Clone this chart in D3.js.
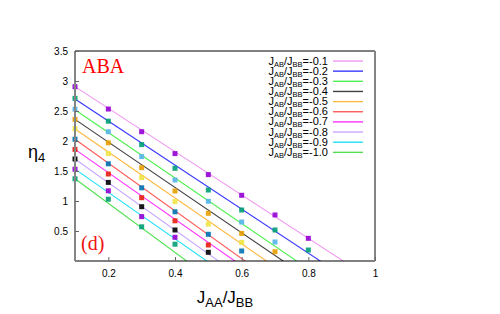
<!DOCTYPE html>
<html>
<head>
<meta charset="utf-8">
<script src="https://cdn.jsdelivr.net/npm/d3@7"></script>
<style>
  body { margin: 0; background: #fff; }
</style>
</head>
<body>
<script>
// J_AA/J_BB values where points were computed
var jaa = [0.1, 0.2, 0.3, 0.4, 0.5, 0.6, 0.7, 0.8]

// eta_4 data points, one row per colour band (top to bottom)
var pts1  = [2.905, 2.533, 2.155, 1.79, 1.44, 1.095, 0.767, 0.378]
var pts2  = [2.71, 2.33, 1.94, 1.545, 1.183, 0.85, 0.517, 0.183]
var pts3  = [2.53, 2.155, 1.74, 1.35, 0.995, 0.65, 0.317]
var pts4  = [2.36, 1.97, 1.555, 1.167, 0.795, 0.46, 0.155]
var pts5  = [2.205, 1.79, 1.39, 0.99, 0.615, 0.31]
var pts6  = [2.03, 1.62, 1.22, 0.82, 0.445, 0.167]
var pts7  = [1.86, 1.45, 1.055, 0.67, 0.267]
var pts8  = [1.70, 1.31, 0.905, 0.517, 0.145]
var pts9  = [1.53, 1.17, 0.74, 0.395]
var pts10 = [1.37, 1.03, 0.57, 0.28]
var pointRows = [pts1, pts2, pts3, pts4, pts5, pts6, pts7, pts8, pts9, pts10]
var pointColors = ["#9400d3", "#009e73", "#56b4e9", "#e69f00", "#f0e442",
                   "#0072b2", "#e51e10", "#000000", "#9400d3", "#009e73"]

// straight lines, one per J_AB/J_BB: value at J_AA=0.1 and slope
var jab = ["-0.1", "-0.2", "-0.3", "-0.4", "-0.5", "-0.6", "-0.7", "-0.8", "-0.9", "-1.0"]
var lineStart = [2.905, 2.70, 2.52, 2.36, 2.20, 2.03, 1.86, 1.70, 1.53, 1.37]
var lineSlope = [-3.61, -3.67, -3.79, -3.78, -3.83, -3.98, -3.88, -3.95, -3.87, -4.09]
var lineColors = ["#f09af0", "#3a3aff", "#50f050", "#404040", "#ffb840",
                  "#ff5a5a", "#ff30ff", "#c8a8ff", "#20e0f8", "#50e050"]

var xTicks = [0.2, 0.4, 0.6, 0.8, 1]
var yTicks = [0.5, 1, 1.5, 2, 2.5, 3, 3.5]

var sans = "'Liberation Sans', Arial, sans-serif"
var serif = "'Liberation Serif', 'Times New Roman', serif"

function main() {
  var W = 500, H = 314
  var pLeft = 75, pRight = 375, pTop = 51, pBottom = 261

  var svg = d3.select("body").append("svg").attr("width", W).attr("height", H)
    .style("font-family", sans)

  var x = d3.scaleLinear().domain([0.1, 1]).range([pLeft, pRight])
  var y = d3.scaleLinear().domain([0, 3.5]).range([pBottom, pTop])

  svg.append("clipPath").attr("id", "plotclip")
    .append("rect").attr("x", pLeft).attr("y", pTop)
    .attr("width", pRight - pLeft).attr("height", pBottom - pTop)

  // lines
  var lineGen = d3.line().x(function(d) { return x(d[0]) }).y(function(d) { return y(d[1]) })
  var linesG = svg.append("g").attr("clip-path", "url(#plotclip)")
  for (var i = 0; i < jab.length; i++) {
    var a = lineStart[i], b = lineSlope[i]
    var seg = [[0.1, a], [1, a + b * 0.9]]
    linesG.append("path")
      .attr("d", lineGen(seg))
      .attr("fill", "none")
      .attr("stroke", lineColors[i])
      .attr("stroke-width", 1.1)
  }

  // points
  var ptsG = svg.append("g")
  for (var r = 0; r < pointRows.length; r++) {
    var row = pointRows[r]
    for (var k = 0; k < row.length; k++) {
      ptsG.append("rect")
        .attr("x", x(jaa[k]) - 2.5)
        .attr("y", y(row[k]) - 2.5)
        .attr("width", 5).attr("height", 5)
        .attr("fill", pointColors[r])
        .attr("opacity", 0.9)
    }
  }

  // frame
  svg.append("line").attr("x1", pLeft).attr("x2", pRight).attr("y1", pTop).attr("y2", pTop)
    .attr("stroke", "#000").attr("stroke-width", 1)
  svg.append("line").attr("x1", pLeft).attr("x2", pRight).attr("y1", pBottom).attr("y2", pBottom)
    .attr("stroke", "#000").attr("stroke-width", 1)
  svg.append("line").attr("x1", pLeft).attr("x2", pLeft).attr("y1", pTop).attr("y2", pBottom)
    .attr("stroke", "#858585").attr("stroke-width", 2)
  svg.append("line").attr("x1", pRight).attr("x2", pRight).attr("y1", pTop).attr("y2", pBottom)
    .attr("stroke", "#858585").attr("stroke-width", 2)

  // axes (ticks point inward)
  var xAxis = d3.axisBottom(x).tickValues(xTicks).tickSize(-4).tickPadding(9)
    .tickFormat(function(d) { return d === 1 ? "1" : d3.format(".1f")(d) })
  var gx = svg.append("g").attr("transform", "translate(0," + pBottom + ")").call(xAxis)
  var yAxis = d3.axisLeft(y).tickValues(yTicks).tickSize(-4).tickPadding(7)
    .tickFormat(function(d) { return String(d) })
  var gy = svg.append("g").attr("transform", "translate(" + pLeft + ",0)").call(yAxis)
  ;[gx, gy].forEach(function(g) {
    g.attr("font-family", sans).attr("font-size", 10)
    g.select(".domain").remove()
    g.selectAll(".tick line").attr("stroke", "#666")
    g.selectAll(".tick text").attr("fill", "#000")
  })

  // axis labels
  var xl = svg.append("text").attr("x", 225).attr("y", 303)
    .attr("text-anchor", "middle").attr("font-size", 17).attr("fill", "#000")
  xl.append("tspan").text("J")
  xl.append("tspan").text("AA").attr("font-size", 13).attr("dy", 4)
  xl.append("tspan").text("/J").attr("dy", -4)
  xl.append("tspan").text("BB").attr("font-size", 13).attr("dy", 4)

  var yl = svg.append("text").attr("x", 28).attr("y", 158)
    .attr("font-size", 18).attr("fill", "#000")
  yl.append("tspan").text("η")
  yl.append("tspan").text("4").attr("font-size", 13).attr("dy", 4)

  // panel texts
  svg.append("text").attr("x", 82).attr("y", 73).text("ABA")
    .style("font-family", serif)
    .attr("font-size", 20).attr("fill", "#ff0000")
  svg.append("text").attr("x", 81).attr("y", 250).text("(d)")
    .style("font-family", serif)
    .attr("font-size", 20).attr("fill", "#ee1111")

  // legend
  var legTop = 61, legStep = 10.15
  for (var j = 0; j < jab.length; j++) {
    var ly = legTop + j * legStep
    var t = svg.append("text").attr("x", 328).attr("y", ly + 3.5)
      .attr("text-anchor", "end").attr("font-size", 11).attr("fill", "#000")
    t.append("tspan").text("J")
    t.append("tspan").text("AB").attr("font-size", 7.5).attr("dy", 2)
    t.append("tspan").text("/J").attr("dy", -2)
    t.append("tspan").text("BB").attr("font-size", 7.5).attr("dy", 2)
    t.append("tspan").text("=" + jab[j]).attr("dy", -2)
    svg.append("line").attr("x1", 333).attr("x2", 363).attr("y1", ly).attr("y2", ly)
      .attr("stroke", lineColors[j]).attr("stroke-width", 1.4)
  }
}

main()
</script>
</body>
</html>
